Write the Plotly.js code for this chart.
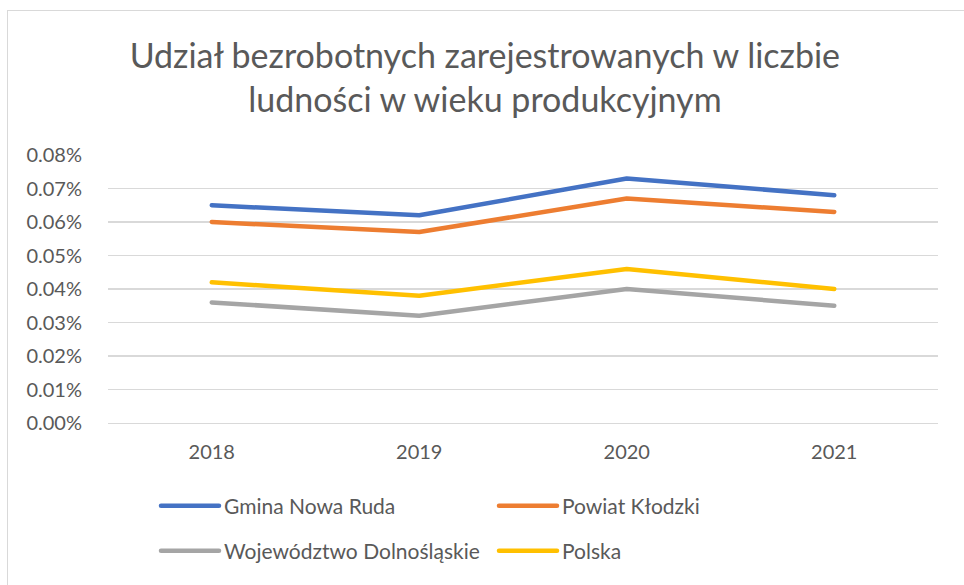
<!DOCTYPE html>
<html>
<head>
<meta charset="utf-8">
<script src="https://cdn.plot.ly/plotly-3.0.1.min.js"></script>
<style>
  html, body { margin: 0; padding: 0; background: #fff; }
  #wrap { position: relative; width: 964px; height: 585px; overflow: hidden; }
  #frame { position: absolute; left: 7px; top: 10px; width: 1000px; height: 1000px;
           border: 1px solid #D9D9D9; box-sizing: border-box; }
  #chart { position: absolute; left: 0; top: 0; width: 964px; height: 585px; }
  .scatterlayer .js-line { stroke-linecap: round; stroke-linejoin: round; }
  .legendlines .js-line { stroke-linecap: round; }
</style>
</head>
<body>
<div id="wrap">
  <div id="frame"></div>
  <div id="chart"></div>
</div>
<script>
const years = ['2018', '2019', '2020', '2021'];
const gminaNowaRuda = [0.00065, 0.00062, 0.00073, 0.00068];
const powiatKlodzki = [0.00060, 0.00057, 0.00067, 0.00063];
const wojDolnoslaskie = [0.00036, 0.00032, 0.00040, 0.00035];
const polska = [0.00042, 0.00038, 0.00046, 0.00040];
const seriesNames = ['Gmina Nowa Ruda', 'Powiat Kłodzki', 'Województwo Dolnośląskie', 'Polska'];
const yTicks = [0, 0.0001, 0.0002, 0.0003, 0.0004, 0.0005, 0.0006, 0.0007, 0.0008];

const colors = ['#4472C4', '#ED7D31', '#A5A5A5', '#FFC000'];
const FONT = 'Lato, "Open Sans", sans-serif';
const TXT = '#595959';

function tr(y, name, color, legend, rank) {
  return { x: years, y: y, name: name, type: 'scatter', mode: 'lines',
           line: { color: color, width: 4.5 }, legend: legend, legendrank: rank,
           hoverinfo: 'skip' };
}

const data = [
  tr(gminaNowaRuda, seriesNames[0], colors[0], 'legend', 1),
  tr(powiatKlodzki, seriesNames[1], colors[1], 'legend', 2),
  tr(wojDolnoslaskie, seriesNames[2], colors[2], 'legend2', 3),
  tr(polska, seriesNames[3], colors[3], 'legend2', 4)
];

const legendCommon = {
  orientation: 'h', xanchor: 'left', yanchor: 'middle',
  font: { family: FONT, size: 21, color: TXT },
  entrywidth: 265, entrywidthmode: 'pixels', itemwidth: 58,
  bgcolor: 'rgba(0,0,0,0)', borderwidth: 0
};

const layout = {
  width: 964, height: 585,
  paper_bgcolor: 'rgba(0,0,0,0)', plot_bgcolor: 'rgba(0,0,0,0)',
  margin: { l: 108, r: 26, t: 155, b: 162 },
  title: {
    text: 'Udział bezrobotnych zarejestrowanych w liczbie<br>ludności w wieku produkcyjnym',
    font: { family: FONT, size: 34, color: TXT },
    x: 0.503, xanchor: 'center', y: 1 - 68 / 585, yanchor: 'top'
  },
  xaxis: {
    type: 'category', range: [-0.5, 3.5], showgrid: false, zeroline: false,
    showline: true, linecolor: '#D9D9D9', linewidth: 1.3,
    tickfont: { family: FONT, size: 20, color: TXT }, ticks: '', ticklabelstandoff: 11,
    fixedrange: true
  },
  yaxis: {
    range: [0, 0.0008], tickvals: yTicks, tickformat: '.2%',
    showgrid: true, gridcolor: '#D9D9D9', gridwidth: 1.3, zeroline: false,
    showline: false, ticks: '', ticklabelstandoff: 25,
    tickfont: { family: FONT, size: 20, color: TXT }, fixedrange: true
  },
  showlegend: true,
  legend: Object.assign({}, legendCommon, { x: (156 - 108) / 830, y: -(506 - 423) / 268 }),
  legend2: Object.assign({}, legendCommon, { x: (156 - 108) / 830, y: -(551 - 423) / 268 })
};

Plotly.newPlot('chart', data, layout, { displayModeBar: false, staticPlot: true });
</script>
</body>
</html>
